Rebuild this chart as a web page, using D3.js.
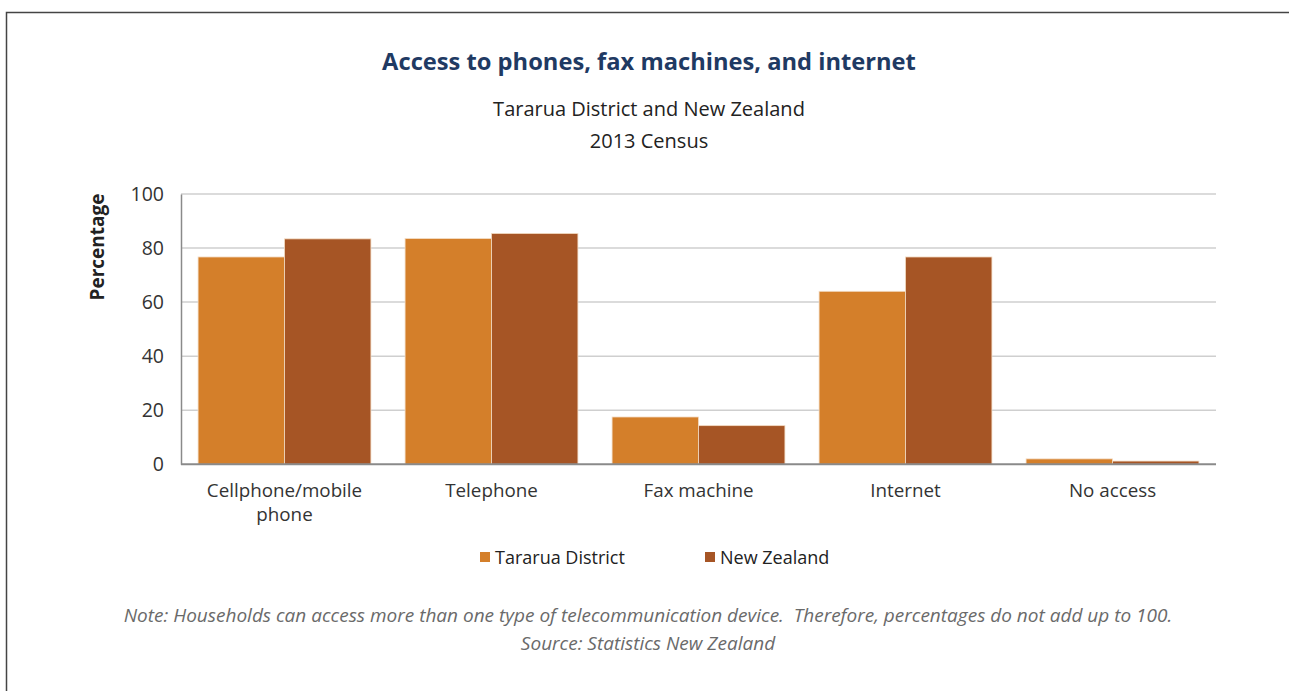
<!DOCTYPE html>
<html>
<head>
<meta charset="utf-8">
<script src="https://cdn.jsdelivr.net/npm/d3@7"></script>
<style>
  body { margin: 0; background: #fff; }
  text { font-family: "Open Sans", "Noto Sans", sans-serif; }
</style>
</head>
<body>
<div id="chart"></div>
<script>
// Chart data
const categories = ["Cellphone/mobile phone", "Telephone", "Fax machine", "Internet", "No access"];
const seriesNames = ["Tararua District", "New Zealand"];
const tararua = [76.7, 83.5, 17.5, 64.0, 2.0];
const newZealand = [83.4, 85.4, 14.3, 76.7, 1.2];
const yTicks = [0, 20, 40, 60, 80, 100];
const colors = ["#D47F2A", "#A65525"];

const W = 1289, H = 691;
const svg = d3.select("#chart").append("svg")
    .attr("width", W)
    .attr("height", H);

// Outer frame (runs off the right and bottom edges)
svg.append("path")
    .attr("d", `M6.5,${H} V12.5 H${W}`)
    .attr("fill", "none")
    .attr("stroke", "#444")
    .attr("stroke-width", 1.5);

// Titles
svg.append("text")
    .attr("x", 649).attr("y", 70)
    .attr("text-anchor", "middle")
    .attr("font-size", 23.7).attr("font-weight", "bold")
    .attr("fill", "#1F3A63")
    .text("Access to phones, fax machines, and internet");

svg.append("text")
    .attr("x", 649).attr("y", 116)
    .attr("text-anchor", "middle")
    .attr("font-size", 20).attr("fill", "#222")
    .text("Tararua District and New Zealand");

svg.append("text")
    .attr("x", 649).attr("y", 148)
    .attr("text-anchor", "middle")
    .attr("font-size", 20).attr("fill", "#222")
    .text("2013 Census");

// Plot area
const plot = {left: 181, right: 1216, top: 194, bottom: 464.3};

const x0 = d3.scaleBand()
    .domain(categories)
    .range([plot.left, plot.right])
    .paddingInner(0.165)
    .paddingOuter(0.0825);

const x1 = d3.scaleBand()
    .domain(seriesNames)
    .range([0, x0.bandwidth()]);

const y = d3.scaleLinear()
    .domain([0, 100])
    .range([plot.bottom, plot.top]);

// Gridlines
svg.append("g")
    .selectAll("line")
    .data(yTicks.filter(d => d > 0))
    .enter().append("line")
    .attr("x1", plot.left).attr("x2", plot.right)
    .attr("y1", d => y(d)).attr("y2", d => y(d))
    .attr("stroke", "#cfcfcf")
    .attr("stroke-width", 1.5);

// Y axis
const yAxis = svg.append("g")
    .attr("transform", `translate(${plot.left},0)`)
    .call(d3.axisLeft(y).tickValues(yTicks).tickSize(0).tickPadding(17));
yAxis.select(".domain").attr("stroke", "#8a8a8a").attr("stroke-width", 1.5);
yAxis.selectAll("text")
    .attr("font-size", 19.5)
    .attr("fill", "#333")
    .attr("font-family", "'Open Sans', sans-serif");

// Bars
const rows = categories.map((c, i) => ({cat: c, values: [tararua[i], newZealand[i]]}));

const groups = svg.append("g")
    .selectAll("g")
    .data(rows)
    .enter().append("g")
    .attr("transform", d => `translate(${x0(d.cat)},0)`);

groups.selectAll("rect")
    .data(d => d.values.map((v, j) => ({name: seriesNames[j], value: v, j})))
    .enter().append("rect")
    .attr("x", d => x1(d.name))
    .attr("y", d => y(d.value))
    .attr("width", x1.bandwidth())
    .attr("height", d => plot.bottom - y(d.value))
    .attr("fill", d => colors[d.j])
    .attr("stroke", "#f3dcc4")
    .attr("stroke-width", 0.8);

// X axis line
svg.append("line")
    .attr("x1", plot.left).attr("x2", plot.right)
    .attr("y1", plot.bottom).attr("y2", plot.bottom)
    .attr("stroke", "#8a8a8a")
    .attr("stroke-width", 2);

// Category labels (wrapped like the original)
const labelLines = {
  "Cellphone/mobile phone": ["Cellphone/mobile", "phone"]
};
svg.append("g")
    .selectAll("text")
    .data(categories)
    .enter().append("text")
    .attr("text-anchor", "middle")
    .attr("font-size", 18.8)
    .attr("fill", "#333")
    .attr("x", d => x0(d) + x0.bandwidth() / 2)
    .attr("y", 497)
    .each(function(d) {
      const lines = labelLines[d] || [d];
      const t = d3.select(this);
      lines.forEach((ln, i) => {
        t.append("tspan")
          .attr("x", x0(d) + x0.bandwidth() / 2)
          .attr("dy", i === 0 ? 0 : 24)
          .text(ln);
      });
    });

// Y axis title
svg.append("text")
    .attr("transform", "rotate(-90)")
    .attr("x", -247).attr("y", 104)
    .attr("text-anchor", "middle")
    .attr("font-size", 19).attr("font-weight", "bold")
    .attr("fill", "#222")
    .text("Percentage");

// Legend
const legendX = [480, 705];
const legend = svg.append("g");
seriesNames.forEach((name, i) => {
  legend.append("rect")
      .attr("x", legendX[i]).attr("y", 552)
      .attr("width", 10).attr("height", 10)
      .attr("fill", colors[i]);
  legend.append("text")
      .attr("x", legendX[i] + 15).attr("y", 564)
      .attr("font-size", 18).attr("fill", "#222")
      .text(name);
});

// Note and source
svg.append("text")
    .attr("x", 648).attr("y", 622)
    .attr("text-anchor", "middle")
    .attr("font-size", 19).attr("font-style", "italic")
    .attr("fill", "#6a6a6a")
    .attr("xml:space", "preserve")
    .text("Note: Households can access more than one type of telecommunication device.  Therefore, percentages do not add up to 100.");

svg.append("text")
    .attr("x", 648).attr("y", 650)
    .attr("text-anchor", "middle")
    .attr("font-size", 19).attr("font-style", "italic")
    .attr("fill", "#6a6a6a")
    .text("Source: Statistics New Zealand");
</script>
</body>
</html>
